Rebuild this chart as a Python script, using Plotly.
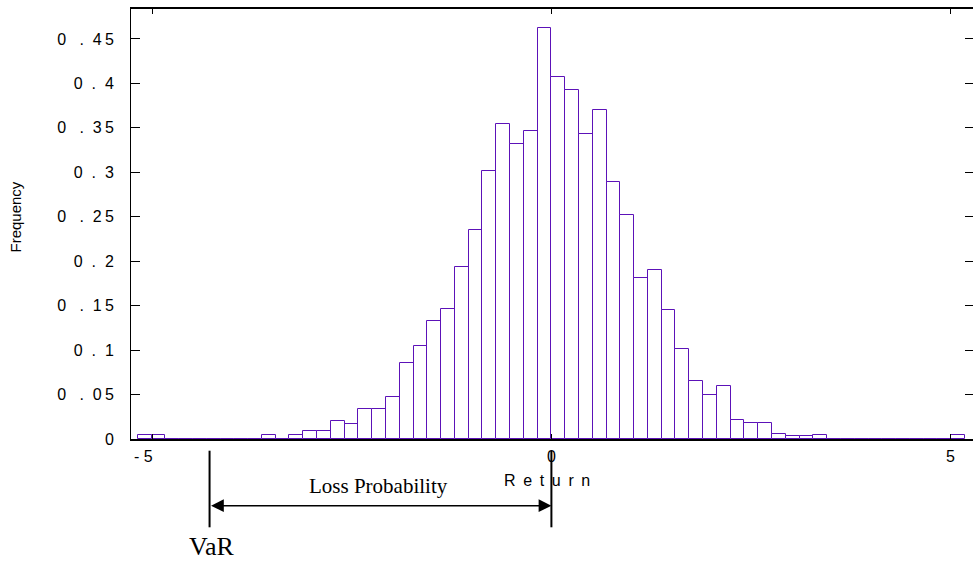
import plotly.graph_objects as go

# Histogram of returns: 60 equal bins, density on the y axis
bin_left = -5.181
bin_width = 0.1727
frequency = [
    0.004, 0.0045, 0, 0, 0, 0, 0, 0, 0, 0.004,
    0, 0.004, 0.0087, 0.0087, 0.020, 0.0169, 0.034, 0.034, 0.0469, 0.0855,
    0.1043, 0.1328, 0.1459, 0.1931, 0.2355, 0.3011, 0.3547, 0.3315, 0.3465, 0.4624,
    0.4069, 0.3923, 0.3428, 0.3698, 0.2891, 0.2516, 0.1815, 0.1901, 0.1451, 0.1016,
    0.0649, 0.0495, 0.0596, 0.0214, 0.0176, 0.0176, 0.006, 0.003, 0.003, 0.0045,
    0, 0, 0, 0, 0, 0, 0, 0, 0, 0.0045,
]

x_ticks = [-5, 0, 5]
x_tick_labels = ["-5", "0", "5"]
y_ticks = [0, 0.05, 0.1, 0.15, 0.2, 0.25, 0.3, 0.35, 0.4, 0.45]
y_tick_labels = ["0", "0.05", "0.1", "0.15", "0.2", "0.25", "0.3", "0.35", "0.4", "0.45"]

var_level = -4.282   # value-at-risk marker on the return axis
zero_return = 0.0

NB = "\u00a0"
THIN = "\u2009"


def spaced_y(label):
    # widely tracked decimal labels, e.g. "0 . 4 5"
    if "." not in label:
        return label
    whole, frac = label.split(".")
    if len(frac) == 1:
        return whole + NB * 2 + "." + NB * 2 + frac
    return whole + NB * 3 + "." + NB * 2 + frac[0] + THIN + frac[1]


def spaced_x(label):
    if label.startswith("-"):
        return "-" + NB + label[1:] + NB * 4
    return label


centers = [bin_left + bin_width * (i + 0.5) for i in range(len(frequency))]
purple = "#5c12b8"
sans = "Liberation Sans, Arial, sans-serif"
serif = "Liberation Serif, Times New Roman, serif"

fig = go.Figure()
fig.add_trace(go.Bar(
    x=centers, y=frequency, width=bin_width,
    marker=dict(color="white", line=dict(color=purple, width=1)),
    showlegend=False, hoverinfo="skip",
))
# invisible trace that carries the right-hand tick marks
fig.add_trace(go.Scatter(x=[centers[0]], y=[0], yaxis="y2", mode="markers",
                         marker=dict(opacity=0), showlegend=False, hoverinfo="skip"))

fig.update_layout(
    width=973, height=561,
    margin=dict(l=131, r=0, t=9, b=122),
    paper_bgcolor="white", plot_bgcolor="white",
    font=dict(family=sans, size=16, color="black"),
    bargap=0,
    xaxis=dict(
        range=[-5.266, 5.281], tickvals=x_ticks,
        ticktext=[spaced_x(t) for t in x_tick_labels],
        ticks="inside", ticklen=5, tickcolor="black", tickwidth=1,
        showline=True, linecolor="black", linewidth=1.5, mirror="ticks",
        showgrid=False, zeroline=False, ticklabelstandoff=2,
        tickfont=dict(size=16),
    ),
    yaxis=dict(
        range=[0, 0.4837], tickvals=y_ticks,
        ticktext=[spaced_y(t) for t in y_tick_labels],
        ticks="inside", ticklen=9, tickcolor="black", tickwidth=1,
        showline=True, linecolor="black", linewidth=1,
        showgrid=False, zeroline=False, ticklabelstandoff=13,
        tickfont=dict(size=16),
    ),
    yaxis2=dict(
        range=[0, 0.4837], tickvals=y_ticks, overlaying="y", side="right",
        ticks="inside", ticklen=8, tickcolor="black", tickwidth=1,
        showticklabels=False, showline=False, showgrid=False, zeroline=False,
    ),
)

# axis titles
fig.add_annotation(text="Frequency", xref="paper", yref="paper",
                   x=(15 - 131) / 842, y=(439 - 217.5) / 430, textangle=-90,
                   xanchor="center", yanchor="middle",
                   showarrow=False, font=dict(family=sans, size=15))
fig.add_annotation(text=(NB + THIN).join("Return"), xref="paper", yref="paper",
                   x=(546.5 - 131) / 842, y=(439 - 480) / 430,
                   xanchor="center", yanchor="middle",
                   showarrow=False, font=dict(family=sans, size=16))

# VaR bracket below the axis
for xv in (var_level, zero_return):
    fig.add_shape(type="line", xref="x", yref="paper", x0=xv, x1=xv,
                  y0=(439 - 450.7) / 430, y1=(439 - 527.3) / 430,
                  line=dict(color="black", width=2))
fig.add_annotation(text="", xref="x", yref="paper", x=zero_return,
                   y=(439 - 505.7) / 430, axref="x", ax=var_level, ay=0,
                   showarrow=True, arrowside="end+start", arrowhead=2,
                   arrowsize=1.7, arrowwidth=1.5, arrowcolor="black")
fig.add_annotation(text="Loss Probability", xref="x", yref="paper",
                   x=(var_level + zero_return) / 2 - 0.02, y=(439 - 486) / 430,
                   xanchor="center", yanchor="middle",
                   showarrow=False, font=dict(family=serif, size=21))
fig.add_annotation(text="VaR", xref="x", yref="paper",
                   x=var_level + 0.02, y=(439 - 546) / 430,
                   xanchor="center", yanchor="middle",
                   showarrow=False, font=dict(family=serif, size=26))

fig.write_html("out.html")
